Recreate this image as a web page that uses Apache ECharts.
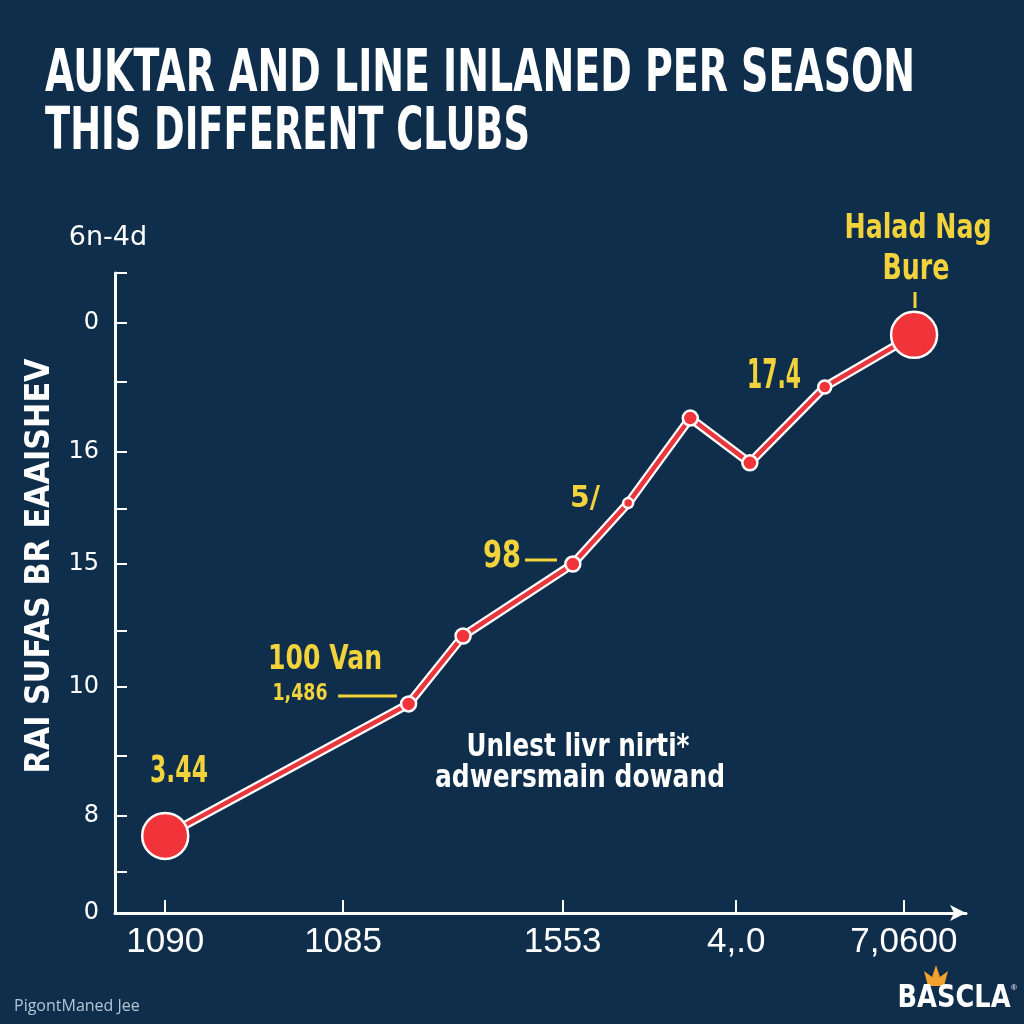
<!DOCTYPE html>
<html>
<head>
<meta charset="utf-8">
<script src="https://cdn.jsdelivr.net/npm/echarts@6/dist/echarts.min.js"></script>
<style>
html,body{margin:0;padding:0;background:#0e2e4b;}
#c{width:1024px;height:1024px;}
</style>
</head>
<body>
<div id="c"></div>
<script>
// ---- data ----
var titleLines = ['AUKTAR AND LINE INLANED PER SEASON', 'THIS DIFFERENT CLUBS'];
var yAxisTitle = 'RAI SUFAS BR EAAISHEV';
var yUnitLabel = '6n-4d';
var xValues = [5.9, 34.5, 40.9, 53.8, 60.3, 67.6, 74.6, 83.4, 93.9];
var yValues = [2.53, 6.86, 9.09, 11.45, 13.45, 16.24, 14.77, 17.26, 18.97];
var xTickValues = [5.9, 26.8, 52.6, 73.0, 92.7];
var xTickLabels = ['1090', '1085', '1553', '4,.0', '7,0600'];
var yTickValues = [1.35, 3.18, 5.15, 7.42, 9.25, 11.45, 13.26, 15.13, 17.42, 19.36, 21];
var yLabelValues = [0, 3.18, 7.42, 11.45, 15.13, 19.36];
var yLabelTexts = ['0', '8', '10', '15', '16', '0'];
var annotationTexts = ['Halad Nag', 'Bure', '17.4', '5/', '98', '100 Van', '1,486', '3.44'];
var noteLines = ['Unlest livr nirti*', 'adwersmain dowand'];
var footerText = 'PigontManed Jee';
var logoText = 'BASCLA';

var points = xValues.map(function (x, i) { return [x, yValues[i]]; });

var chart = echarts.init(document.getElementById('c'));
var YEL = '#f3d33b';
var BOLDFAM = '"DejaVu Sans", sans-serif';

var measureCtx = document.createElement('canvas').getContext('2d');
function measure(text, font) {
  measureCtx.font = font;
  return measureCtx.measureText(text).width;
}

function yLabelFor(v) {
  for (var i = 0; i < yLabelValues.length; i++) {
    if (Math.abs(yLabelValues[i] - v) < 1e-6) return yLabelTexts[i];
  }
  return '';
}
function xLabelFor(v) {
  for (var i = 0; i < xTickValues.length; i++) {
    if (Math.abs(xTickValues[i] - v) < 1e-6) return xTickLabels[i];
  }
  return '';
}

var option = {
  backgroundColor: '#0e2e4b',
  animation: false,
  grid: { left: 115, right: 58, top: 273, bottom: 111 },
  xAxis: {
    type: 'value',
    min: 0,
    max: 100,
    splitLine: { show: false },
    axisLine: {
      show: true,
      lineStyle: { color: '#ffffff', width: 3 },
      symbol: ['none', 'arrow'],
      symbolSize: [12, 16]
    },
    axisTick: {
      show: true,
      inside: true,
      length: 13,
      customValues: xTickValues,
      lineStyle: { color: '#ffffff', width: 2 }
    },
    axisLabel: {
      customValues: xTickValues,
      formatter: function (v) { return xLabelFor(v); },
      color: '#ffffff',
      fontFamily: '"Liberation Sans", sans-serif',
      fontSize: 35,
      margin: 12
    }
  },
  yAxis: {
    type: 'value',
    min: 0,
    max: 21,
    name: yUnitLabel,
    nameLocation: 'end',
    nameGap: 22,
    nameTextStyle: {
      color: '#ffffff',
      fontFamily: '"DejaVu Sans", sans-serif',
      fontSize: 27,
      align: 'center',
      padding: [0, 0, 0, -14]
    },
    splitLine: { show: false },
    axisLine: { show: true, lineStyle: { color: '#ffffff', width: 3 } },
    axisTick: {
      show: true,
      inside: true,
      length: 12,
      customValues: yTickValues,
      lineStyle: { color: '#ffffff', width: 2 }
    },
    axisLabel: {
      customValues: yLabelValues,
      formatter: function (v) { return yLabelFor(v); },
      color: '#ffffff',
      fontFamily: '"DejaVu Sans", sans-serif',
      fontSize: 24,
      margin: 16
    }
  },
  series: [
    {
      type: 'line',
      data: points,
      symbol: 'none',
      z: 2,
      lineStyle: { color: '#ffffff', width: 9 },
      silent: true
    },
    {
      type: 'line',
      data: points,
      z: 3,
      symbol: 'circle',
      symbolSize: function (val, params) {
        var i = params.dataIndex;
        if (i === 0 || i === points.length - 1) return 46;
        if (i === 4) return 10;
        if (i === 7) return 13;
        return 15;
      },
      lineStyle: { color: '#e8363c', width: 4.5 },
      itemStyle: { color: '#f0343a', borderColor: '#ffffff', borderWidth: 2.5 }
    }
  ]
};
chart.setOption(option);

var g = [];
// condensed text: scaled horizontally to a target width
function condText(t, x, y, size, width, color, align, extra) {
  var font = 'bold ' + size + 'px ' + BOLDFAM;
  var w = measure(t, font);
  var sx = width / w;
  var style = {
    text: t, fill: color, font: font,
    align: align || 'center', verticalAlign: 'middle'
  };
  if (extra) for (var k in extra) style[k] = extra[k];
  g.push({ type: 'text', x: x, y: y, scaleX: sx, style: style, z: 10 });
}
// title
var titleShadow = { shadowColor: 'rgba(0,0,0,0.65)', shadowBlur: 6, shadowOffsetX: 3, shadowOffsetY: 4 };
condText(titleLines[0], 45, 76, 58, 870, '#ffffff', 'left', titleShadow);
condText(titleLines[1], 45, 134, 58, 485, '#ffffff', 'left', titleShadow);
// rotated y title
g.push({
  type: 'text', x: 40, y: 566, rotation: Math.PI / 2,
  style: { text: yAxisTitle, fill: '#ffffff', font: 'bold 34px ' + BOLDFAM, align: 'center', verticalAlign: 'middle' },
  scaleX: 415 / measure(yAxisTitle, 'bold 34px ' + BOLDFAM)
});
var annShadow = { shadowColor: 'rgba(0,0,0,0.5)', shadowBlur: 3 };
condText(annotationTexts[0], 918, 229, 34, 147, YEL, 'center', annShadow);
condText(annotationTexts[1], 916, 270, 36, 67, YEL, 'center', annShadow);
condText(annotationTexts[2], 774, 378, 40, 54, YEL, 'center', annShadow);
condText(annotationTexts[3], 585, 499, 30, 30, YEL, 'center', annShadow);
condText(annotationTexts[4], 502, 557, 37, 38, YEL, 'center', annShadow);
condText(annotationTexts[5], 325, 660, 34, 114, YEL, 'center', annShadow);
condText(annotationTexts[6], 300, 694, 23, 55, YEL, 'center', annShadow);
condText(annotationTexts[7], 179, 772, 38, 58, YEL, 'center', annShadow);
function yLine(x1, y1, x2, y2, w) {
  g.push({ type: 'line', shape: { x1: x1, y1: y1, x2: x2, y2: y2 }, style: { stroke: YEL, lineWidth: w || 3 }, z: 10 });
}
yLine(915, 292, 915, 308, 3);
yLine(525, 560, 557, 560, 3);
yLine(338, 696, 397, 696, 3);
// note
condText(noteLines[0], 578, 748, 32, 223, '#ffffff', 'center');
condText(noteLines[1], 580, 779, 32, 290, '#ffffff', 'center');
// footer
g.push({
  type: 'text', x: 14, y: 1006,
  style: { text: footerText, fill: '#b3c6d6', font: '16px "Open Sans", sans-serif', align: 'left', verticalAlign: 'middle' }
});
// logo
g.push({
  type: 'polygon',
  shape: { points: [[928, 986], [924, 971], [932, 977], [936, 965], [940, 977], [948, 971], [944, 986]] },
  style: { fill: '#f2a22c' }
});
condText(logoText, 954, 999, 32, 113, '#ffffff', 'center');
g.push({
  type: 'text', x: 1014, y: 988,
  style: { text: '®', fill: '#ffffff', font: '8px sans-serif', align: 'center', verticalAlign: 'middle' }
});
chart.setOption({ graphic: g });
</script>
</body>
</html>
